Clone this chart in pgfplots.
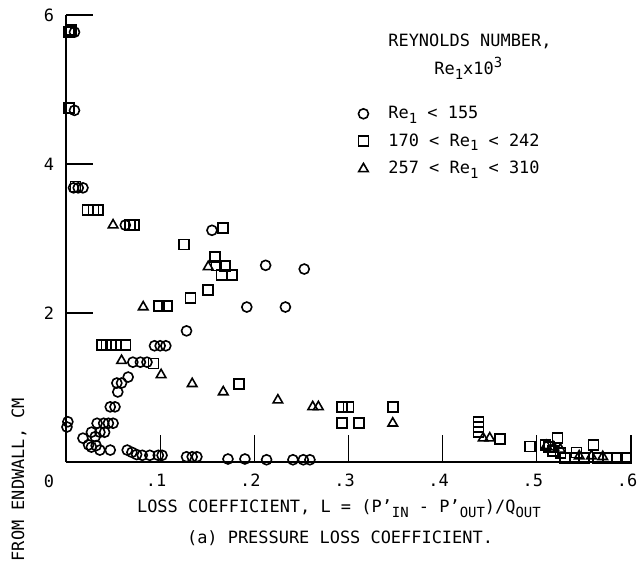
\documentclass[border=0pt]{standalone}
\usepackage{pgfplots}
\pgfplotsset{compat=1.18}
\usepackage{fontspec}
\setmainfont{DejaVu Sans Mono}
\newcommand\sub[1]{\raisebox{-0.5ex}{\fontsize{14}{14}\selectfont #1}}
\newcommand\sups[1]{\raisebox{0.75ex}{\fontsize{14}{14}\selectfont #1}}
\newcommand\tf{\fontsize{17}{20}\selectfont}
\begin{document}
\begin{tikzpicture}
\tf
\begin{axis}[
  at={(66bp,106bp)}, anchor=south west,
  scale only axis, width=565bp, height=447bp,
  xmin=0, xmax=0.6, ymin=0, ymax=6,
  enlargelimits=false, clip=false,
  axis lines=left, axis line style={-, line width=1.5bp, black},
  xtick={0.1,0.2,0.3,0.4,0.5,0.6}, xticklabels={.1,.2,.3,.4,.5,.6},
  ytick={2,4,6}, yticklabels={2,4,6},
  tick align=inside, major tick length=27bp,
  tick style={line width=1.3bp, black},
  ticklabel style={font=\tf},
  xticklabel style={yshift=-6bp, xshift=-4bp},
  yticklabel style={xshift=-6bp},
  legend style={at={(rel axis cs:0.512,0.805)}, anchor=north west, draw=none, fill=none,
    font=\tf, row sep=8.5bp, cells={anchor=west},
    /tikz/every odd column/.append style={column sep=18bp}},
  legend image code/.code={\draw[#1] plot coordinates {(0.3cm,0cm)};},
]
\addplot[only marks, mark=o, mark size=5bp, line width=1.6bp, black] coordinates {
(0.009,5.77)(0.009,4.72)
(0.008,3.68)(0.013,3.68)(0.018,3.68)
(0.063,3.18)(0.155,3.11)
(0.212,2.64)(0.253,2.59)
(0.192,2.08)(0.233,2.08)
(0.128,1.76)
(0.094,1.56)(0.100,1.56)(0.106,1.56)
(0.071,1.34)(0.079,1.34)(0.086,1.34)
(0.066,1.14)(0.054,1.06)(0.059,1.06)(0.055,0.94)
(0.047,0.74)(0.052,0.74)
(0.002,0.54)(0.001,0.47)
(0.033,0.52)(0.040,0.52)(0.045,0.52)(0.050,0.52)
(0.027,0.40)(0.036,0.40)(0.041,0.40)
(0.018,0.32)(0.031,0.34)
(0.024,0.23)(0.027,0.20)(0.032,0.22)
(0.036,0.16)(0.047,0.16)
(0.065,0.16)(0.070,0.13)
(0.075,0.10)(0.081,0.09)(0.089,0.09)(0.098,0.09)(0.102,0.09)
(0.128,0.07)(0.134,0.07)(0.139,0.07)
(0.172,0.04)(0.190,0.04)(0.213,0.03)(0.241,0.03)(0.252,0.03)(0.259,0.03)
};
\addlegendentry{Re\sub{1} < 155}
\addplot[only marks, mark=square, mark size=5bp, line width=1.6bp, black] coordinates {
(0.003,5.77)(0.005,5.80)
(0.003,4.75)
(0.010,3.70)
(0.023,3.38)(0.029,3.38)(0.034,3.38)
(0.068,3.18)(0.072,3.18)
(0.167,3.14)(0.125,2.92)
(0.158,2.75)(0.160,2.64)(0.169,2.63)(0.165,2.51)(0.176,2.51)
(0.151,2.31)(0.132,2.20)
(0.099,2.09)(0.107,2.09)
(0.038,1.57)(0.043,1.57)(0.048,1.57)(0.053,1.57)(0.063,1.57)
(0.093,1.32)(0.184,1.05)
(0.293,0.74)(0.300,0.74)(0.347,0.74)
(0.293,0.52)(0.311,0.52)
(0.438,0.54)(0.438,0.47)(0.438,0.40)
(0.461,0.31)
(0.493,0.21)(0.509,0.23)(0.513,0.20)(0.522,0.32)(0.517,0.15)(0.525,0.12)(0.542,0.13)(0.560,0.23)
(0.530,0.05)(0.540,0.05)(0.550,0.05)(0.565,0.05)(0.575,0.05)(0.585,0.05)(0.595,0.05)
};
\addlegendentry{170 < Re\sub{1} < 242}
\addplot[only marks, mark=triangle, mark size=5.5bp, line width=1.6bp, black] coordinates {
(0.050,3.18)(0.151,2.62)(0.082,2.08)
(0.059,1.36)(0.101,1.17)(0.134,1.05)(0.167,0.94)(0.225,0.83)
(0.262,0.74)(0.268,0.74)(0.347,0.52)
(0.443,0.32)(0.450,0.32)
(0.510,0.22)(0.518,0.20)(0.525,0.17)(0.545,0.08)(0.558,0.08)(0.570,0.07)
};
\addlegendentry{257 < Re\sub{1} < 310}
\node[font=\tf] at (rel axis cs:0.715,0.940) {REYNOLDS NUMBER,};
\node[font=\tf] at (rel axis cs:0.712,0.881) {Re\sub{1}x10\sups{3}};
\node[font=\tf] at (rel axis cs:-0.030,-0.043) {0};
\node[font=\tf] at (rel axis cs:0.483,-0.105) {LOSS COEFFICIENT, L = (P'\sub{IN} - P'\sub{OUT})/Q\sub{OUT}};
\node[font=\tf] at (rel axis cs:0.485,-0.17) {(a) PRESSURE LOSS COEFFICIENT.};
\node[font=\tf, rotate=90, anchor=west] at (rel axis cs:-0.083,-0.235) {FROM ENDWALL, CM};
\end{axis}
\pgfresetboundingbox
\path[use as bounding box] (0bp,0bp) rectangle (637bp,568bp);
\end{tikzpicture}
\end{document}
